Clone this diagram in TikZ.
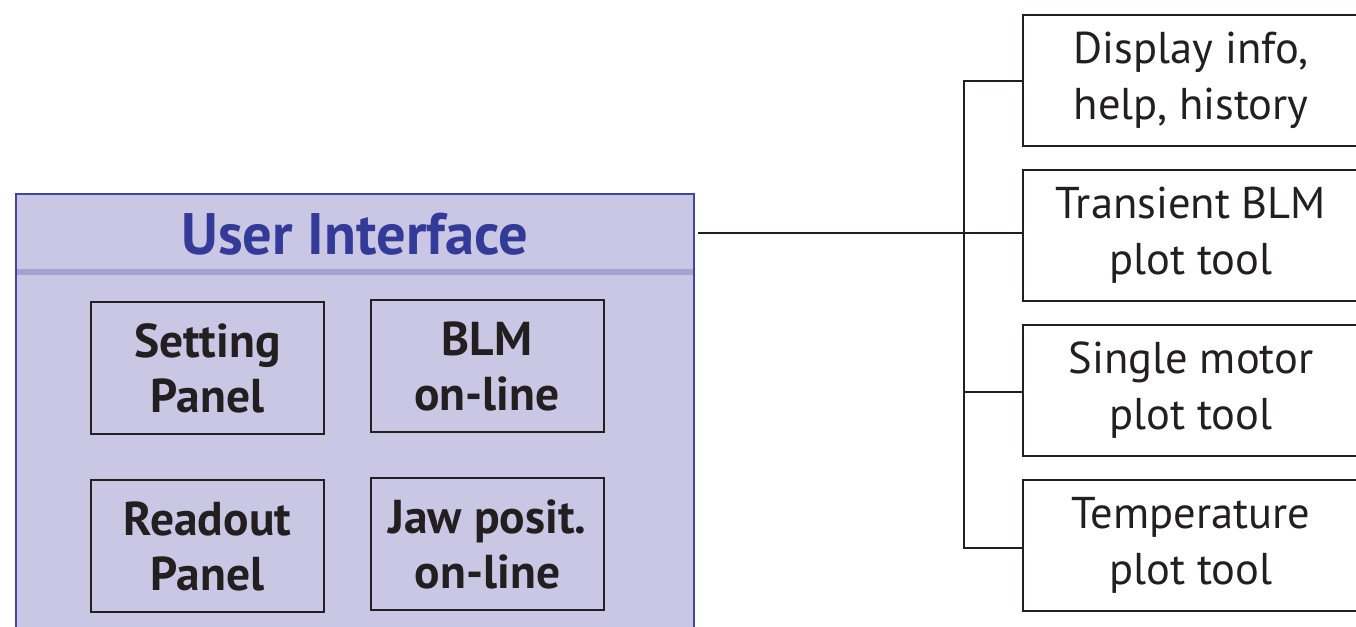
\documentclass[tikz,border=0pt]{standalone}
\usepackage{fontspec}
\setmainfont{PT Sans}
\definecolor{panelfill}{HTML}{C9C7E4}
\definecolor{panelline}{HTML}{3F46A6}
\definecolor{titleblue}{HTML}{343A97}
\definecolor{bandcol}{HTML}{A7A1D1}
\definecolor{ink}{HTML}{231F20}
\begin{document}
\begin{tikzpicture}[x=1pt,y=-1pt,
  panel/.style={draw=panelline,fill=panelfill,line width=2pt,inner sep=0pt},
  inbox/.style={draw=ink,line width=2pt,inner sep=0pt,minimum width=233pt,minimum height=132pt,
    align=center,text=ink,font=\fontsize{47.5}{55}\selectfont\bfseries},
  toolbox/.style={draw=ink,fill=white,line width=2pt,inner sep=0pt,minimum width=336pt,minimum height=131pt,
    align=center,text=ink,font=\fontsize{44.5}{56}\selectfont},
  wire/.style={draw=ink,line width=2pt}]
\useasboundingbox (0,0) rectangle (1356,626);
\clip (0,0) rectangle (1356,626);
\fill[white] (0,0) rectangle (1356,626);

% user interface panel, running past the lower edge
\node[panel,minimum width=678pt,minimum height=446pt] (ui) at (355,417) {};
\fill[bandcol] (17,269) rectangle (693,275);
\node[text=titleblue,font=\fontsize{58.5}{60}\selectfont\bfseries] (title) at (355,234) {User Interface};

% panels inside the user interface
\node[inbox] (setting) at (207.5,368) {Setting\\Panel};
\node[inbox] (blm) at (487,366) {BLM\\on-line};
\node[inbox] (readout) at (207.5,546) {Readout\\Panel};
\node[inbox] (jaw) at (487.5,544) {Jaw posit.\\on-line};

% plotting and display tools
\node[toolbox] (b1) at (1191,80.5) {Display info,\\help, history};
\node[toolbox] (b2) at (1191,235.5) {Transient BLM\\plot tool};
\node[toolbox] (b3) at (1191,390.5) {Single motor\\plot tool};
\node[toolbox] (b4) at (1191,545.5) {Temperature\\plot tool};

% tree of connectors
\coordinate (bus) at (964,0);
\coordinate (feed) at ([yshift=2.5pt]b2.west);
\draw[wire] (b1.west) -- (b1.west -| bus) -- ([yshift=-2.5pt]b4.west -| bus) -- ([yshift=-2.5pt]b4.west);
\draw[wire] ([yshift=-1.5pt]b3.west) -- ([yshift=-1.5pt]b3.west -| bus);
\draw[wire] (feed) -- ([xshift=3pt]feed -| ui.east);
\end{tikzpicture}
\end{document}
